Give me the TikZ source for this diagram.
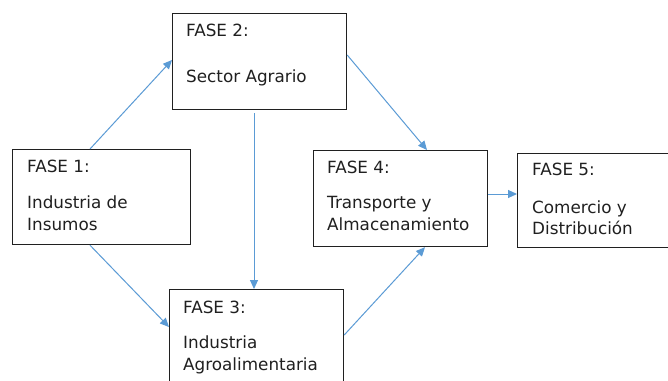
\documentclass[tikz,border=0pt]{standalone}
\usepackage{fontspec}
\setmainfont{DejaVu Sans}
\usetikzlibrary{arrows.meta,calc}
\definecolor{arrowblue}{HTML}{5B9BD5}
\definecolor{ink}{HTML}{202020}
\tikzset{
  box/.style={draw=ink,line width=1.2pt,rectangle,inner sep=0pt,anchor=north west},
  lbl/.style={anchor=base west,inner sep=0pt,text=ink,font=\fontsize{16.8}{20}\selectfont},
  flow/.style={draw=arrowblue,line width=1pt,-{Triangle[length=9pt,width=8pt]}}
}
\begin{document}
\begin{tikzpicture}[x=1pt,y=-1pt]
\clip (0,0) rectangle (668,380);
\fill[white] (0,0) rectangle (668,380);
% boxes
\node[box,minimum width=178pt,minimum height=95pt] (b1) at (12,149) {};
\node[box,minimum width=174pt,minimum height=96pt] (b2) at (172,13) {};
\node[box,minimum width=174pt,minimum height=110pt] (b3) at (169,289) {};
\node[box,minimum width=174pt,minimum height=96pt] (b4) at (313,150) {};
\node[box,minimum width=170pt,minimum height=94pt] (b5) at (517,153) {};
% texts
\node[lbl] (t1a) at (27,172) {FASE 1:};
\node[lbl] (t1b) at (27,208) {Industria de};
\node[lbl] (t1c) at (27,230) {Insumos};
\node[lbl] (t2a) at (186,36) {FASE 2:};
\node[lbl] (t2b) at (186,82) {Sector Agrario};
\node[lbl] (t3a) at (183,313) {FASE 3:};
\node[lbl] (t3b) at (183,348) {Industria};
\node[lbl] (t3c) at (183,370) {Agroalimentaria};
\node[lbl] (t4a) at (327,173) {FASE 4:};
\node[lbl] (t4b) at (327,208) {Transporte y};
\node[lbl] (t4c) at (327,230) {Almacenamiento};
\node[lbl] (t5a) at (532,175) {FASE 5:};
\node[lbl] (t5b) at (532,213) {Comercio y};
\node[lbl] (t5c) at (532,234) {Distribución};
% connectors
\draw[flow] ([xshift=78pt]b1.north west) -- ([yshift=-47pt]b2.north west);
\draw[flow] ([yshift=-42pt]b2.north east) -- ([xshift=114pt]b4.north west);
\draw[flow] ([xshift=82pt,yshift=-3pt]b2.south west) -- ([xshift=82pt]b2.south west |- b3.north);
\draw[flow] ([xshift=78pt]b1.south west) -- ([yshift=-38pt]b3.north west);
\draw[flow] ([yshift=-46pt]b3.north east) -- ([xshift=112pt]b4.south west);
\draw[flow] ([yshift=-44pt]b4.north east) -- ([yshift=-41pt]b5.north west);
\end{tikzpicture}
\end{document}
